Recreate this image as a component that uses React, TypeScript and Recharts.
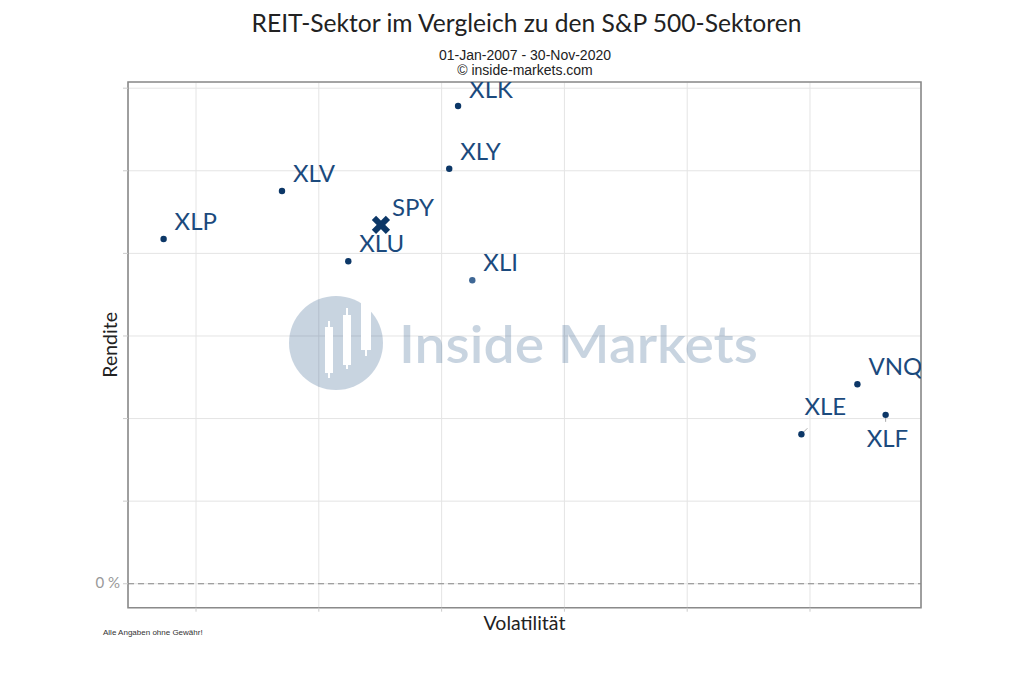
import React from 'react';
import {
  ScatterChart,
  Scatter,
  XAxis,
  YAxis,
  CartesianGrid,
  ReferenceLine,
  ReferenceArea,
  Label,
} from 'recharts';

const tickers = ['XLK', 'XLY', 'XLV', 'XLP', 'SPY', 'XLU', 'XLI', 'VNQ', 'XLF', 'XLE'];
const volatility = [25.67, 25.31, 18.5, 13.68, 22.53, 21.2, 26.25, 41.93, 43.08, 39.65];
const returns = [11.57, 10.05, 9.51, 8.35, 8.69, 7.81, 7.35, 4.83, 4.09, 3.62];
const xTicks = [15, 20, 25, 30, 35, 40];
const yTicks = [0, 2, 4, 6, 8, 10, 12];
const xDomain = [12.23, 44.52];
const yDomain = [-0.58, 12.15];

const data = tickers.map((t, i) => ({ ticker: t, x: volatility[i], y: returns[i] }));

const labelOffset: Record<string, [number, number]> = {
  XLE: [3, -19],
  XLF: [-19, 32],
  XLK: [11, -8],
};
const segment: Record<string, [number, number, number, number]> = {
  XLE: [2, -2, 6, -6],
  XLF: [0, 3, 0, 7],
};

const NAVY = '#0c3767';
const LABEL = '#1b4a7d';
const FONT = 'Lato, "Noto Sans", sans-serif';

const PointShape = (props: any) => {
  const { cx, cy, payload } = props;
  const t: string = payload.ticker;
  const [dx, dy] = labelOffset[t] || [11, -9];
  const seg = segment[t];
  return (
    <g>
      {seg && (
        <line x1={cx + seg[0]} y1={cy + seg[1]} x2={cx + seg[2]} y2={cy + seg[3]} stroke="#aaa" strokeWidth={1} />
      )}
      {t === 'SPY' ? (
        <g stroke={NAVY} strokeWidth={6}>
          <line x1={cx - 7} y1={cy - 7} x2={cx + 7} y2={cy + 7} />
          <line x1={cx - 7} y1={cy + 7} x2={cx + 7} y2={cy - 7} />
        </g>
      ) : (
        <circle cx={cx} cy={cy} r={3.2} fill={t === 'XLI' ? '#3e6795' : NAVY} />
      )}
      <text x={cx + dx} y={cy + dy} fill={LABEL} fontSize={24} fontFamily={FONT}>
        {t}
      </text>
    </g>
  );
};

const YTick = (props: any) => {
  const { x, y, payload } = props;
  if (payload.value !== 0) return null;
  return (
    <text x={x} y={y} dy={4.5} textAnchor="end" fill="#999" fontSize={15} fontFamily={FONT}>
      0 %
    </text>
  );
};

export default function App() {
  return (
    <div style={{ position: 'absolute', left: 0, top: 0, width: 1024, height: 683, background: '#fff' }}>
      <div
        style={{
          position: 'absolute',
          left: 0,
          width: 1053,
          top: 8,
          textAlign: 'center',
          fontFamily: FONT,
          fontSize: 24.6,
          color: '#222',
          lineHeight: '29px',
        }}
      >
        REIT-Sektor im Vergleich zu den S&amp;P 500-Sektoren
      </div>
      <div
        style={{
          position: 'absolute',
          left: 0,
          width: 1050,
          top: 48,
          textAlign: 'center',
          fontFamily: '"Liberation Sans", Arial, sans-serif',
          fontSize: 14,
          color: '#222',
          lineHeight: '14.7px',
        }}
      >
        01-Jan-2007 - 30-Nov-2020
        <br />© inside-markets.com
      </div>
      <ScatterChart width={1024} height={683} margin={{ top: 82, right: 103, bottom: 45.3, left: 88 }}>
        <CartesianGrid stroke="#e4e4e4" strokeWidth={1} />
        <XAxis
          type="number"
          dataKey="x"
          domain={xDomain}
          ticks={xTicks}
          allowDataOverflow
          height={30}
          tickFormatter={() => ''}
          tickSize={4}
          tickLine={{ stroke: '#ccc' }}
          axisLine={false}
        >
          <Label value="Volatilität" position="insideBottom" offset={8} fill="#222" fontSize={19.5} fontFamily={FONT} />
        </XAxis>
        <YAxis
          type="number"
          dataKey="y"
          domain={yDomain}
          ticks={yTicks}
          allowDataOverflow
          width={40}
          tick={<YTick />}
          tickSize={5}
          tickMargin={3}
          tickLine={{ stroke: '#ccc' }}
          axisLine={false}
        >
          <Label value="Rendite" position="center" angle={-90} dx={2} fill="#222" fontSize={19.5} fontFamily={FONT} />
        </YAxis>
        <ReferenceLine y={0} stroke="#888" strokeDasharray="6 4" strokeWidth={1.2} />
        <ReferenceArea
          x1={xDomain[0]}
          x2={xDomain[1]}
          y1={yDomain[0]}
          y2={yDomain[1]}
          fill="none"
          stroke="#8a8a8a"
          strokeWidth={1.6}
          ifOverflow="visible"
        />
        <Scatter data={data} shape={<PointShape />} isAnimationActive={false} />
      </ScatterChart>
      <svg
        width={1024}
        height={683}
        style={{ position: 'absolute', left: 0, top: 0, pointerEvents: 'none' }}
      >
        <g opacity={0.24}>
          <circle cx={336} cy={343} r={47} fill="#1f4f82" />
          <text x={399} y={363} fill="#1f4f82" fontSize={51} fontFamily={FONT} fontWeight={600} textLength={359} lengthAdjust="spacingAndGlyphs">
            Inside Markets
          </text>
        </g>
        <g fill="#fff">
          <rect x={325} y={327} width={8} height={46} />
          <rect x={328} y={321} width={2} height={57} />
          <rect x={343} y={315} width={8} height={50} />
          <rect x={346} y={308} width={2} height={61} />
          <rect x={361} y={296} width={10} height={54} />
          <rect x={365} y={296} width={2} height={60} />
        </g>
      </svg>
      <div
        style={{
          position: 'absolute',
          left: 103,
          top: 628,
          fontFamily: '"Liberation Sans", Arial, sans-serif',
          fontSize: 8,
          color: '#333',
        }}
      >
        Alle Angaben ohne Gewähr!
      </div>
    </div>
  );
}
